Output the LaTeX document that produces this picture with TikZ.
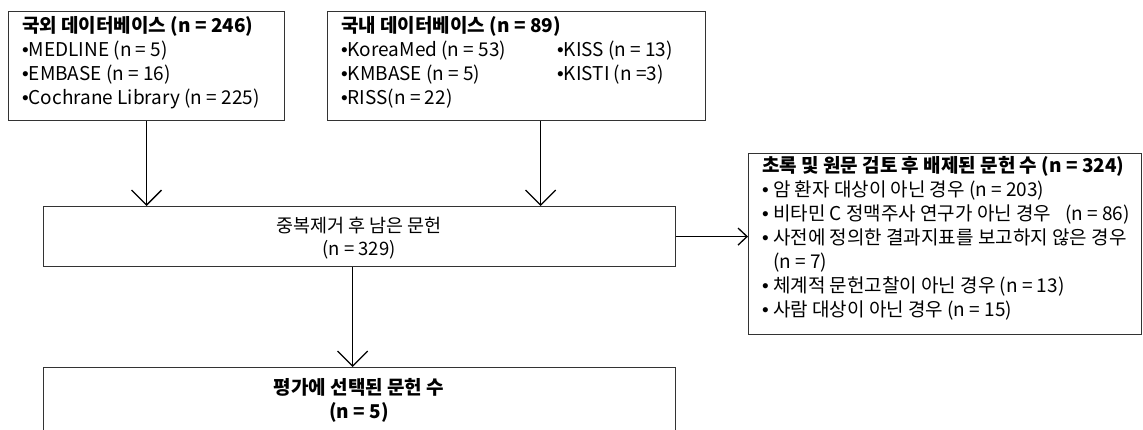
\documentclass[tikz,border=0pt]{standalone}
\usepackage{fontspec}
\setmainfont{Noto Sans CJK KR}
\newfontfamily\bulfont{Liberation Sans}
\newcommand{\mybul}{{\bulfont •}}
\usetikzlibrary{arrows.meta,calc}
\begin{document}
\begin{tikzpicture}[x=1pt,y=-1pt,
  box/.style={draw=black!80, line width=1.1pt, anchor=north west, inner sep=0pt},
  txt/.style={anchor=base west, inner sep=0pt, font=\fontsize{19}{24}\selectfont},
  ttl/.style={txt, font=\fontsize{19}{24}\selectfont\bfseries},
  ctr/.style={anchor=base, inner sep=0pt, font=\fontsize{18.5}{24}\selectfont},
  cttl/.style={ctr, font=\fontsize{19}{24}\selectfont\bfseries},
  arr/.style={line width=1.3pt, -{Straight Barb[length=15pt,width=30pt]}},
  sarr/.style={line width=1.3pt, -{Straight Barb[length=9pt,width=17pt]}}]
\useasboundingbox (0,0) rectangle (1143,429);
\clip (0,0) rectangle (1143,429);
% boxes
\node[box, minimum width=276pt, minimum height=109pt] (b1) at (8,11) {};
\node[box, minimum width=378pt, minimum height=109pt] (b2) at (327,11) {};
\node[box, minimum width=632pt, minimum height=60pt] (m) at (43,206) {};
\node[box, minimum width=393pt, minimum height=181pt] (r) at (748,153) {};
\node[box, minimum width=632pt, minimum height=100pt] (bt) at (43,367) {};
% box 1 text
\node[ttl] (b1t) at (22,32) {국외 데이터베이스 (n = 246)};
\node[txt] (b1a) at (22,56) {\mybul MEDLINE (n = 5)};
\node[txt] (b1b) at (22,80) {\mybul EMBASE (n = 16)};
\node[txt] (b1c) at (22,104) {\mybul Cochrane Library (n = 225)};
% box 2 text
\node[ttl] (b2t) at (341,32) {국내 데이터베이스 (n = 89)};
\node[txt] (b2a) at (341,56) {\mybul KoreaMed (n = 53)};
\node[txt] (b2b) at (341,80) {\mybul KMBASE (n = 5)};
\node[txt] (b2c) at (341,104) {\mybul RISS(n = 22)};
\node[txt] (b2d) at (557,56) {\mybul KISS (n = 13)};
\node[txt] (b2e) at (557,80) {\mybul KISTI (n =3)};
% middle text
\node[ctr] (m1) at (359,232) {중복제거 후 남은 문헌};
\node[ctr] (m2) at (359,255) {(n = 329)};
% right box text
\node[ttl] (r0) at (762,172) {초록 및 원문 검토 후 배제된 문헌 수 (n = 324)};
\node[txt] (r1) at (762,196) {\mybul\ 암 환자 대상이 아닌 경우 (n = 203)};
\node[txt] (r2) at (762,220) {\mybul\ 비타민 C 정맥주사 연구가 아닌 경우\hspace{14pt}(n = 86)};
\node[txt] (r3) at (762,244) {\mybul\ 사전에 정의한 결과지표를 보고하지 않은 경우};
\node[txt] (r4) at (762,268) {\phantom{\mybul\ }(n = 7)};
\node[txt] (r5) at (762,292) {\mybul\ 체계적 문헌고찰이 아닌 경우 (n = 13)};
\node[txt] (r6) at (762,316) {\mybul\ 사람 대상이 아닌 경우 (n = 15)};
% bottom text
\node[cttl] (bt1) at (359,394) {평가에 선택된 문헌 수};
\node[cttl] (bt2) at (359,418) {(n = 5)};
% connectors
\coordinate (s2) at ($(b2.south west)!0.5635!(b2.south east)$);
\coordinate (s3) at ($(m.south west)!0.489!(m.south east)$);
\draw[arr] (b1.south) -- (b1.south |- m.north);
\draw[arr] (s2) -- (s2 |- m.north);
\draw[sarr] (m.east) -- (m.east -| r.west);
\draw[arr] (s3) -- (s3 |- bt.north);
\end{tikzpicture}
\end{document}
